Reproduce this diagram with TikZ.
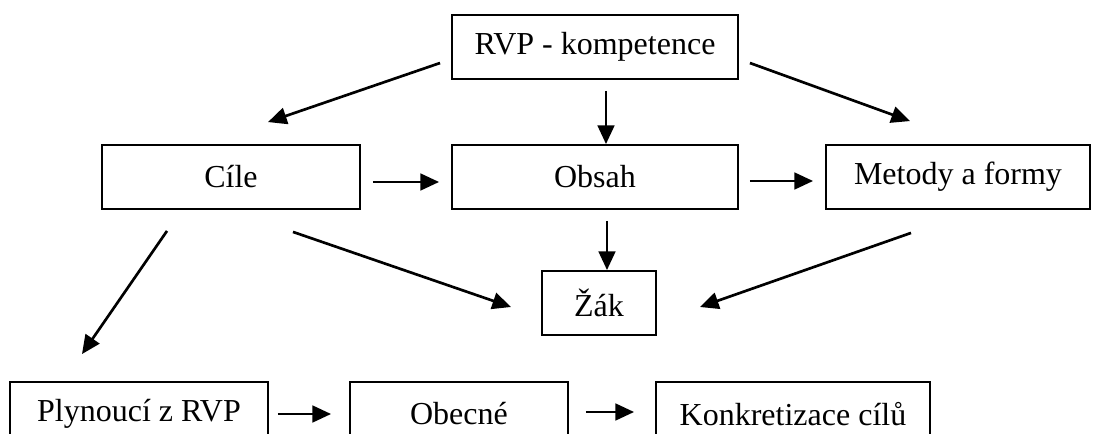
\documentclass[tikz,border=0pt]{standalone}
\usepackage{fontspec}
\setmainfont{Liberation Serif}
\usetikzlibrary{arrows.meta,calc}
\tikzset{
  box/.style={draw, line width=1.4pt, minimum height=48pt, inner sep=2pt, font=\fontsize{24}{28}\selectfont},
  arr/.style={line width=2pt, -{Triangle[length=14pt,width=12.5pt]}}
}
\begin{document}
\begin{tikzpicture}[x=0.75pt,y=-0.75pt]
\useasboundingbox (0,0) rectangle (1093,434);
\begin{scope}
\clip (0,0) rectangle (1093,434);
\node[box, minimum width=214.5pt] (rvp) at (595,47) {RVP - kompetence};
\node[box, minimum width=193.5pt] (cile) at (231,177) {Cíle};
\node[box, minimum width=214.5pt] (obsah) at (595,177) {Obsah};
\node[box, minimum width=198pt] (metody) at (958,177) {Metody a formy};
\node[box, minimum width=85.5pt] (zak) at (599,303) {Žák};
\node[box, minimum width=193.5pt] (plyn) at (139,414) {Plynoucí z RVP};
\node[box, minimum width=163.5pt] (obecne) at (459,414) {Obecné};
\node[box, minimum width=205.5pt] (konk) at (793,414) {Konkretizace cílů};

\draw[arr] ($(rvp.west)+(-11,16)$) -- ($(cile.north)+(37,-22)$);
\draw[arr] ($(rvp.south)+(11,11)$) -- ($(obsah.north)+(11,0)$);
\draw[arr] ($(rvp.east)+(11,16)$) -- ($(metody.north)+(-48,-23)$);
\draw[arr] ($(cile.east)+(12,5)$) -- ($(obsah.west)+(-12,5)$);
\draw[arr] ($(obsah.east)+(11,4)$) -- ($(metody.west)+(-12,4)$);
\draw[arr] ($(obsah.south)+(12,11)$) -- ($(zak.north)+(8,0)$);
\draw[arr] ($(cile.south)+(62,22)$) -- ($(zak.west)+(-30,4)$);
\draw[arr] ($(metody.south)+(-47,23)$) -- ($(zak.east)+(43,4)$);
\draw[arr] ($(cile.south)+(-64,21)$) -- ($(plyn.north)+(-57,-27)$);
\draw[arr] ($(plyn.east)+(9,0)$) -- ($(obecne.west)+(-18,0)$);
\draw[arr] ($(obecne.east)+(17,-2)$) -- ($(konk.west)+(-21,-2)$);
\end{scope}
\end{tikzpicture}
\end{document}
